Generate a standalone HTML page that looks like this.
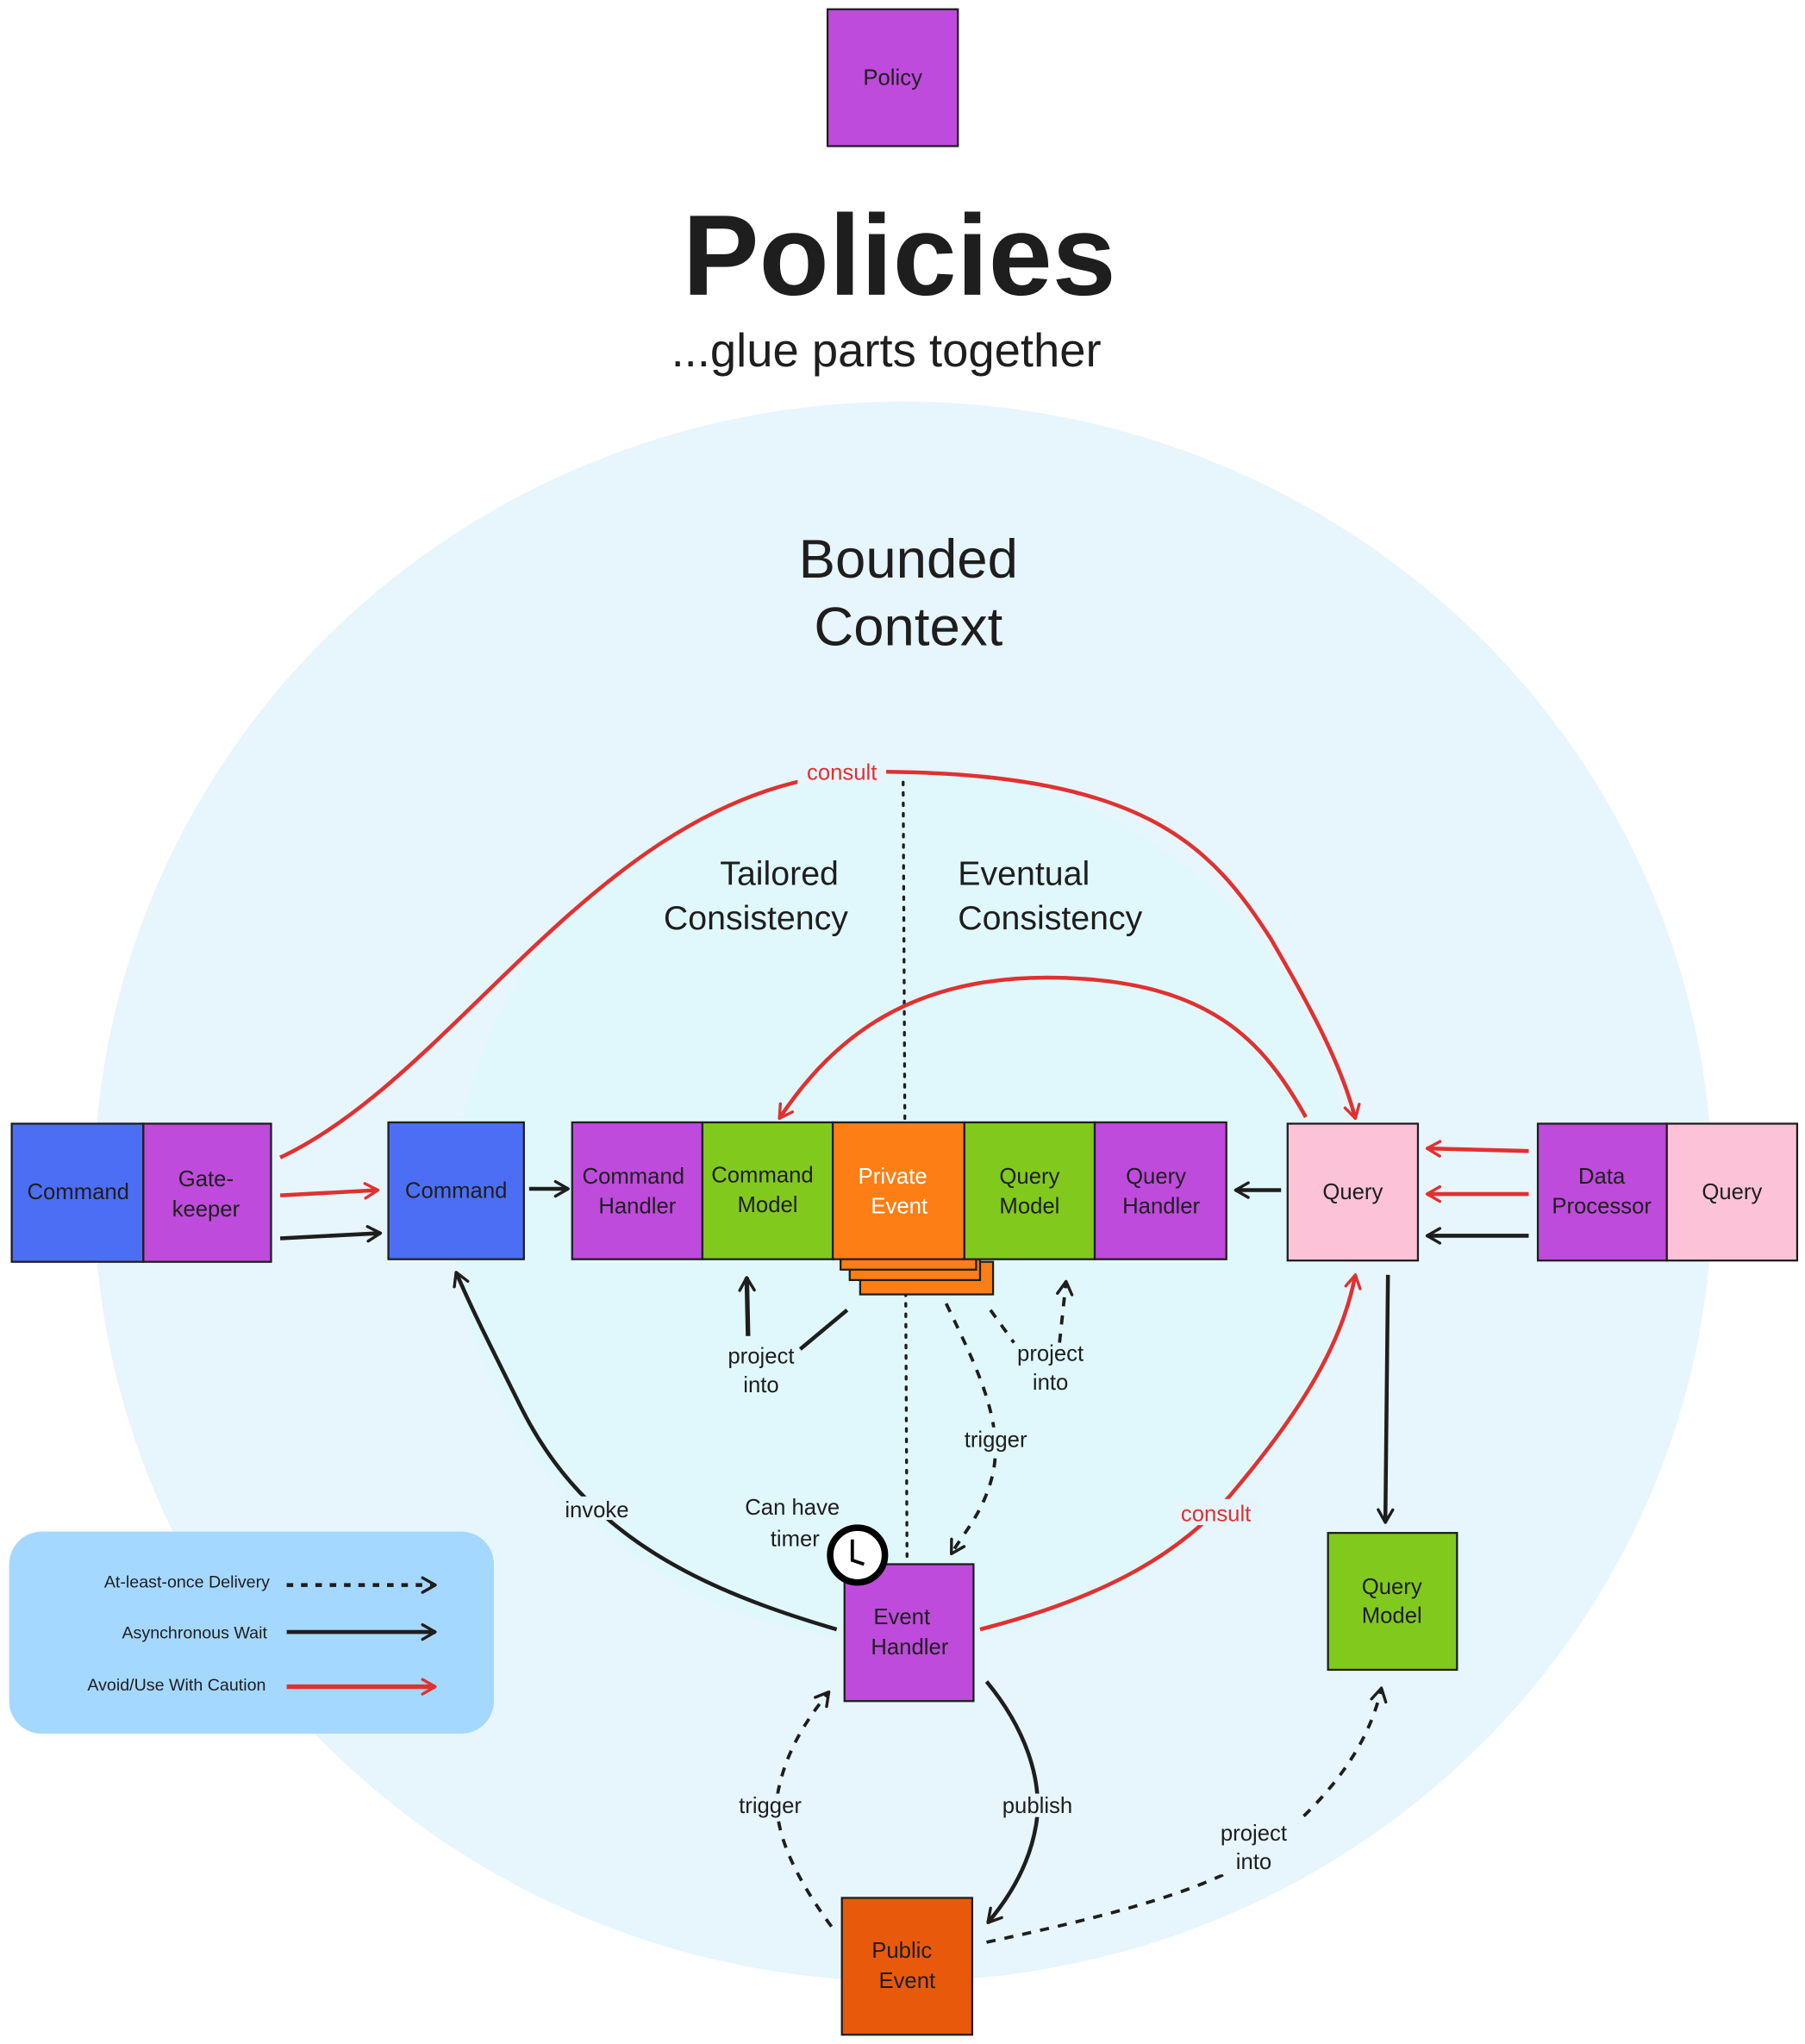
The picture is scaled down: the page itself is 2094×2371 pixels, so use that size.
<!DOCTYPE html>
<html><head><meta charset="utf-8"><style>
html,body{margin:0;padding:0;background:#fff;}
svg{display:block;}
text{font-family:"Liberation Sans Narrow","Liberation Sans",sans-serif;fill:#1e1e1e;}
</style></head><body>
<svg width="2094" height="2371" viewBox="0 0 1385 1568" xmlns="http://www.w3.org/2000/svg">
<defs>
<marker id="ab" viewBox="0 0 20 20" refX="18" refY="10" markerWidth="14" markerHeight="14" markerUnits="userSpaceOnUse" orient="auto">
<path d="M4,2 L18,10 L4,18" fill="none" stroke="#1e1e1e" stroke-width="3.2" stroke-linecap="round" stroke-linejoin="round"/></marker>
<marker id="ar" viewBox="0 0 20 20" refX="18" refY="10" markerWidth="14" markerHeight="14" markerUnits="userSpaceOnUse" orient="auto">
<path d="M4,2 L18,10 L4,18" fill="none" stroke="#e03131" stroke-width="3.2" stroke-linecap="round" stroke-linejoin="round"/></marker>
</defs>
<rect width="1385" height="1568" fill="#fff"/>
<!-- policy -->
<rect x="635" y="7" width="100" height="105" fill="#be4bdb" stroke="#1e1e1e" stroke-width="1.5"/>
<text x="685" y="65" font-size="17" text-anchor="middle">Policy</text>
<text x="690" y="226" font-size="88" text-anchor="middle" font-weight="bold">Policies</text>
<text x="680" y="281" font-size="36" text-anchor="middle">...glue parts together</text>
<!-- circles -->
<ellipse cx="693" cy="914" rx="621" ry="606" fill="#e7f5fd"/>
<ellipse cx="693" cy="925" rx="345" ry="335" fill="#e0f8fc"/>
<text x="697" y="443" font-size="42" text-anchor="middle">Bounded</text>
<text x="697" y="495" font-size="42" text-anchor="middle">Context</text>
<line x1="693" y1="600" x2="696" y2="1198" stroke="#1e1e1e" stroke-width="2.2" stroke-dasharray="2 6" stroke-linecap="round"/>
<text x="598" y="679" font-size="26" text-anchor="middle">Tailored</text>
<text x="580" y="713" font-size="26" text-anchor="middle">Consistency</text>
<text x="735" y="679" font-size="26">Eventual</text>
<text x="735" y="713" font-size="26">Consistency</text>
<!-- red consult top -->
<path d="M215,888 C360,820 470,590 680,592 C880,594 930,650 975,720 C1010,780 1030,820 1040,858" fill="none" stroke="#e03131" stroke-width="3" marker-end="url(#ar)"/>
<rect x="612" y="582" width="68" height="20" fill="#e7f5fd"/>
<text x="646" y="598" font-size="17" text-anchor="middle" style="fill:#e03131">consult</text>
<path d="M1002,857 C970,800 930,752 810,750 C700,748 640,795 598,858" fill="none" stroke="#e03131" stroke-width="3" marker-end="url(#ar)"/>
<!-- left boxes -->
<rect x="9" y="862" width="101" height="106" fill="#4c6ef5" stroke="#1e1e1e" stroke-width="1.5"/>
<rect x="110" y="862" width="98" height="106" fill="#be4bdb" stroke="#1e1e1e" stroke-width="1.5"/>
<text x="60" y="920" font-size="17" text-anchor="middle">Command</text>
<text x="158" y="910" font-size="17" text-anchor="middle">Gate-</text>
<text x="158" y="933" font-size="17" text-anchor="middle">keeper</text>
<line x1="215" y1="917" x2="290" y2="913" stroke="#e03131" stroke-width="3" marker-end="url(#ar)"/>
<line x1="215" y1="950" x2="292" y2="946" stroke="#1e1e1e" stroke-width="3" marker-end="url(#ab)"/>
<rect x="298" y="861" width="104" height="105" fill="#4c6ef5" stroke="#1e1e1e" stroke-width="1.5"/>
<text x="350" y="919" font-size="17" text-anchor="middle">Command</text>
<line x1="406" y1="912" x2="436" y2="912" stroke="#1e1e1e" stroke-width="3" marker-end="url(#ab)"/>
<!-- stack -->
<rect x="660" y="968" width="102" height="25" fill="#fd7e14" stroke="#1e1e1e" stroke-width="1.5"/>
<rect x="652" y="966" width="100" height="16" fill="#fd7e14" stroke="#1e1e1e" stroke-width="1.5"/>
<rect x="645" y="964" width="104" height="10" fill="#fd7e14" stroke="#1e1e1e" stroke-width="1.5"/>
<rect x="439" y="861" width="100" height="105" fill="#be4bdb" stroke="#1e1e1e" stroke-width="1.5"/>
<rect x="539" y="861" width="100" height="105" fill="#82c91e" stroke="#1e1e1e" stroke-width="1.5"/>
<rect x="639" y="861" width="101" height="105" fill="#fd7e14" stroke="#1e1e1e" stroke-width="1.5"/>
<rect x="740" y="861" width="100" height="105" fill="#82c91e" stroke="#1e1e1e" stroke-width="1.5"/>
<rect x="840" y="861" width="101" height="105" fill="#be4bdb" stroke="#1e1e1e" stroke-width="1.5"/>
<text x="486" y="908" font-size="17" text-anchor="middle">Command</text>
<text x="489" y="931" font-size="17" text-anchor="middle">Handler</text>
<text x="585" y="907" font-size="17" text-anchor="middle">Command</text>
<text x="589" y="930" font-size="17" text-anchor="middle">Model</text>
<text x="685" y="908" font-size="17" text-anchor="middle" style="fill:#fff">Private</text>
<text x="690" y="931" font-size="17" text-anchor="middle" style="fill:#fff">Event</text>
<text x="790" y="908" font-size="17" text-anchor="middle">Query</text>
<text x="790" y="931" font-size="17" text-anchor="middle">Model</text>
<text x="887" y="908" font-size="17" text-anchor="middle">Query</text>
<text x="891" y="931" font-size="17" text-anchor="middle">Handler</text>
<!-- query -->
<rect x="988" y="862" width="100" height="105" fill="#fcc2d7" stroke="#1e1e1e" stroke-width="1.5"/>
<text x="1038" y="920" font-size="17" text-anchor="middle">Query</text>
<line x1="983" y1="913" x2="948" y2="913" stroke="#1e1e1e" stroke-width="3" marker-end="url(#ab)"/>
<rect x="1180" y="862" width="99" height="105" fill="#be4bdb" stroke="#1e1e1e" stroke-width="1.5"/>
<rect x="1279" y="862" width="100" height="105" fill="#fcc2d7" stroke="#1e1e1e" stroke-width="1.5"/>
<text x="1229" y="908" font-size="17" text-anchor="middle">Data</text>
<text x="1229" y="931" font-size="17" text-anchor="middle">Processor</text>
<text x="1329" y="920" font-size="17" text-anchor="middle">Query</text>
<line x1="1173" y1="883" x2="1095" y2="881" stroke="#e03131" stroke-width="3" marker-end="url(#ar)"/>
<line x1="1173" y1="916" x2="1095" y2="916" stroke="#e03131" stroke-width="3" marker-end="url(#ar)"/>
<line x1="1173" y1="948" x2="1095" y2="948" stroke="#1e1e1e" stroke-width="3" marker-end="url(#ab)"/>
<line x1="1065" y1="978" x2="1063" y2="1168" stroke="#1e1e1e" stroke-width="3" marker-end="url(#ab)"/>
<rect x="1019" y="1176" width="99" height="105" fill="#82c91e" stroke="#1e1e1e" stroke-width="1.5"/>
<text x="1068" y="1223" font-size="17" text-anchor="middle">Query</text>
<text x="1068" y="1245" font-size="17" text-anchor="middle">Model</text>
<!-- project into left -->
<line x1="650" y1="1005" x2="614" y2="1035" stroke="#1e1e1e" stroke-width="3"/>
<line x1="574" y1="1025" x2="573" y2="980" stroke="#1e1e1e" stroke-width="3.5" marker-end="url(#ab)"/>
<text x="584" y="1046" font-size="17" text-anchor="middle">project</text>
<text x="584" y="1068" font-size="17" text-anchor="middle">into</text>
<line x1="760" y1="1005" x2="778" y2="1030" stroke="#1e1e1e" stroke-width="2.5" stroke-dasharray="7 7"/>
<line x1="813" y1="1030" x2="818" y2="983" stroke="#1e1e1e" stroke-width="2.5" stroke-dasharray="7 7" marker-end="url(#ab)"/>
<text x="806" y="1044" font-size="17" text-anchor="middle">project</text>
<text x="806" y="1066" font-size="17" text-anchor="middle">into</text>
<!-- trigger -->
<path d="M726,1000 C750,1050 770,1090 762,1130 C755,1160 740,1175 730,1192" fill="none" stroke="#1e1e1e" stroke-width="2.5" stroke-dasharray="7 7" marker-end="url(#ab)"/>
<rect x="735" y="1095" width="58" height="18" fill="#e0f8fc"/>
<text x="764" y="1110" font-size="17" text-anchor="middle">trigger</text>
<!-- invoke -->
<path d="M642,1250 C540,1220 450,1180 400,1080 C375,1030 360,1000 350,976" fill="none" stroke="#1e1e1e" stroke-width="3" marker-end="url(#ab)"/>
<rect x="430" y="1148" width="58" height="18" fill="#e4f6fc"/>
<text x="458" y="1164" font-size="17" text-anchor="middle">invoke</text>
<!-- consult bottom -->
<path d="M752,1250 C850,1225 910,1190 950,1140 C1000,1080 1030,1030 1040,978" fill="none" stroke="#e03131" stroke-width="3" marker-end="url(#ar)"/>
<rect x="900" y="1150" width="68" height="20" fill="#e4f6fc"/>
<text x="933" y="1167" font-size="17" text-anchor="middle" style="fill:#e03131">consult</text>
<text x="608" y="1162" font-size="17" text-anchor="middle">Can have</text>
<text x="610" y="1186" font-size="17" text-anchor="middle">timer</text>
<!-- event handler -->
<rect x="648" y="1200" width="99" height="105" fill="#be4bdb" stroke="#1e1e1e" stroke-width="1.5"/>
<text x="692" y="1246" font-size="17" text-anchor="middle">Event</text>
<text x="698" y="1269" font-size="17" text-anchor="middle">Handler</text>
<circle cx="658" cy="1193" r="21" fill="#fff" stroke="#000" stroke-width="5"/>
<path d="M654,1181 L654,1197 L663,1200" fill="none" stroke="#000" stroke-width="2.5"/>
<!-- publish -->
<path d="M757,1290 C790,1330 800,1370 795,1400 C790,1430 775,1455 758,1475" fill="none" stroke="#1e1e1e" stroke-width="3" marker-end="url(#ab)"/>
<rect x="767" y="1376" width="60" height="18" fill="#e7f5fd"/>
<text x="796" y="1391" font-size="17" text-anchor="middle">publish</text>
<path d="M638,1478 C610,1440 590,1400 598,1370 C605,1340 620,1318 636,1298" fill="none" stroke="#1e1e1e" stroke-width="2.5" stroke-dasharray="7 7" marker-end="url(#ab)"/>
<rect x="562" y="1376" width="60" height="18" fill="#e7f5fd"/>
<text x="591" y="1391" font-size="17" text-anchor="middle">trigger</text>
<path d="M757,1490 C850,1470 930,1450 970,1420 C1020,1380 1050,1340 1060,1295" fill="none" stroke="#1e1e1e" stroke-width="2.5" stroke-dasharray="7 7" marker-end="url(#ab)"/>
<rect x="928" y="1396" width="68" height="42" fill="#e7f5fd"/>
<text x="962" y="1412" font-size="17" text-anchor="middle">project</text>
<text x="962" y="1434" font-size="17" text-anchor="middle">into</text>
<rect x="646" y="1456" width="100" height="105" fill="#e8590c" stroke="#1e1e1e" stroke-width="1.5"/>
<text x="692" y="1502" font-size="17" text-anchor="middle">Public</text>
<text x="696" y="1525" font-size="17" text-anchor="middle">Event</text>
<!-- legend -->
<rect x="7" y="1175" width="372" height="155" rx="25" fill="#a5d8ff"/>
<text x="207" y="1218" font-size="13" text-anchor="end">At-least-once Delivery</text>
<text x="205" y="1257" font-size="13" text-anchor="end">Asynchronous Wait</text>
<text x="204" y="1297" font-size="13" text-anchor="end">Avoid/Use With Caution</text>
<line x1="220" y1="1216" x2="334" y2="1216" stroke="#1e1e1e" stroke-width="3" stroke-dasharray="5 6" marker-end="url(#ab)"/>
<line x1="220" y1="1252" x2="334" y2="1252" stroke="#1e1e1e" stroke-width="3" marker-end="url(#ab)"/>
<line x1="220" y1="1294" x2="334" y2="1294" stroke="#e03131" stroke-width="3.5" marker-end="url(#ar)"/>
</svg>
</body></html>
